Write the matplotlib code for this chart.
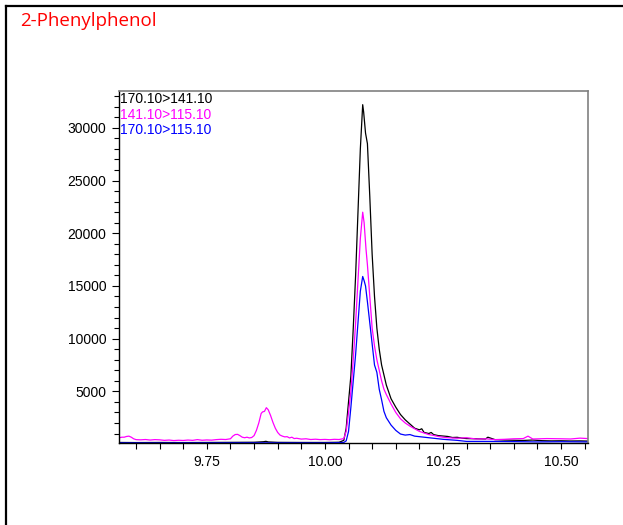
import matplotlib
matplotlib.use("Agg")
import matplotlib.pyplot as plt
from matplotlib.lines import Line2D
from matplotlib.ticker import MultipleLocator, FormatStrFormatter

title = "2-Phenylphenol"
labels = ["170.10>141.10", "141.10>115.10", "170.10>115.10"]
colors = ["#000000", "#ff00ff", "#0000ff"]

# 170.10>141.10 (black)
t_black = [9.565, 9.60, 9.65, 9.70, 9.75, 9.80, 9.85, 9.87, 9.875, 9.88, 9.90, 9.95,
           10.00, 10.03, 10.04, 10.045, 10.05, 10.055, 10.06, 10.065, 10.07, 10.075,
           10.08, 10.082, 10.086, 10.09, 10.095, 10.10, 10.105, 10.11, 10.115, 10.12,
           10.13, 10.14, 10.15, 10.16, 10.17, 10.175, 10.18, 10.19, 10.20, 10.205, 10.21,
           10.22, 10.225, 10.23, 10.24, 10.25, 10.26, 10.27, 10.28, 10.29, 10.30, 10.32,
           10.34, 10.345, 10.36, 10.38, 10.40, 10.42, 10.44, 10.46, 10.48, 10.50, 10.52,
           10.54, 10.557]
v_black = [150, 140, 150, 140, 150, 160, 170, 220, 260, 200, 160, 150,
           150, 170, 350, 1500, 4000, 6500, 11000, 16000, 22000, 28000,
           32200, 31500, 29500, 28500, 23500, 18000, 14000, 11000, 9000, 7500,
           5600, 4300, 3500, 2800, 2300, 2100, 1900, 1500, 1350, 1450, 1100,
           1000, 1100, 900, 800, 760, 720, 620, 640, 560, 520, 500,
           480, 650, 420, 380, 360, 340, 380, 320, 300, 310, 290,
           300, 280]

# 141.10>115.10 (magenta)
t_mag = [9.565, 9.57, 9.575, 9.58, 9.585, 9.59, 9.595, 9.60, 9.61, 9.62, 9.63, 9.64,
         9.65, 9.66, 9.67, 9.68, 9.69, 9.70, 9.71, 9.72, 9.73, 9.74, 9.75, 9.76, 9.77,
         9.78, 9.79, 9.80, 9.805, 9.81, 9.815, 9.82, 9.825, 9.83, 9.835, 9.84, 9.845,
         9.85, 9.855, 9.86, 9.865, 9.868, 9.872, 9.876, 9.88, 9.885, 9.89, 9.895, 9.90,
         9.905, 9.91, 9.915, 9.92, 9.925, 9.93, 9.935, 9.94, 9.95, 9.96, 9.97, 9.98,
         9.99, 10.00, 10.01, 10.02, 10.03, 10.04, 10.045, 10.05, 10.055, 10.06, 10.065,
         10.07, 10.075, 10.08, 10.083, 10.087, 10.09, 10.095, 10.10, 10.105, 10.11,
         10.115, 10.12, 10.125, 10.13, 10.14, 10.15, 10.16, 10.17, 10.18, 10.19, 10.20,
         10.21, 10.22, 10.23, 10.24, 10.25, 10.26, 10.28, 10.30, 10.32, 10.34, 10.36,
         10.38, 10.40, 10.42, 10.43, 10.44, 10.47, 10.50, 10.52, 10.54, 10.557]
v_mag = [600, 650, 650, 720, 750, 650, 500, 420, 400, 430, 380, 420,
         400, 350, 380, 330, 360, 340, 380, 350, 420, 360, 390, 370, 420,
         450, 430, 500, 750, 900, 920, 800, 650, 600, 650, 580, 620,
         800, 1300, 2000, 2900, 3050, 3100, 3450, 3250, 2700, 2050, 1500, 1100,
         850, 750, 680, 700, 580, 650, 520, 550, 470, 500, 430, 460,
         420, 440, 410, 450, 430, 520, 1200, 3000, 5000, 8000, 11500,
         15500, 19500, 22000, 21000, 18500, 17000, 14000, 11000, 9300, 8000,
         7000, 6000, 5200, 4700, 3800, 3000, 2400, 2000, 1700, 1450, 1200,
         1050, 900, 820, 720, 650, 600, 550, 600, 480, 500, 420,
         450, 500, 520, 750, 480, 520, 500, 480, 560, 520]

# 170.10>115.10 (blue)
t_blue = [9.565, 9.65, 9.75, 9.85, 9.95, 10.00, 10.04, 10.045, 10.05, 10.055, 10.06,
          10.065, 10.07, 10.075, 10.08, 10.083, 10.086, 10.09, 10.095, 10.10, 10.105,
          10.11, 10.115, 10.12, 10.125, 10.13, 10.14, 10.15, 10.16, 10.17, 10.18, 10.19,
          10.20, 10.22, 10.25, 10.28, 10.30, 10.35, 10.40, 10.45, 10.50, 10.557]
v_blue = [110, 100, 110, 120, 110, 110, 150, 300, 1200, 3500, 6000,
          8500, 11500, 14500, 15900, 15500, 15000, 13500, 11500, 9500, 7500,
          6800, 5200, 4200, 3100, 2500, 1800, 1300, 950, 850, 900, 750,
          700, 600, 450, 350, 250, 250, 230, 200, 220, 200]

fig = plt.figure(figsize=(6.23, 5.25), dpi=100)
ax = fig.add_axes([0.191, 0.1562, 0.7528, 0.6705])

for t, v, c in [(t_black, v_black, colors[0]), (t_mag, v_mag, colors[1]), (t_blue, v_blue, colors[2])]:
    ax.plot(t, v, color=c, lw=0.9)

ax.set_xlim(9.564, 10.557)
ax.set_ylim(100, 33500)

ax.xaxis.set_major_locator(MultipleLocator(0.25))
ax.xaxis.set_minor_locator(MultipleLocator(0.05))
ax.xaxis.set_major_formatter(FormatStrFormatter("%.2f"))
ax.yaxis.set_major_locator(MultipleLocator(5000))
ax.yaxis.set_minor_locator(MultipleLocator(1000))

ax.tick_params(axis="x", which="both", direction="out", length=4, width=0.8, pad=5,
               labelsize=10)
ax.tick_params(axis="y", which="major", direction="out", length=5, width=0.8, pad=4,
               labelsize=10)
ax.tick_params(axis="y", which="minor", direction="out", length=3.5, width=0.8)
for lab in ax.get_xticklabels() + ax.get_yticklabels():
    lab.set_fontfamily("Liberation Sans")

for side in ["top", "right"]:
    ax.spines[side].set_color("#808080")
    ax.spines[side].set_linewidth(1.2)
for side in ["left", "bottom"]:
    ax.spines[side].set_color("black")
    ax.spines[side].set_linewidth(1.0)

for i, (lab, c) in enumerate(zip(labels, colors)):
    ax.text(0.003, 0.977 - i * 0.0445, lab, transform=ax.transAxes, color=c,
            fontsize=10, family="Liberation Sans", va="center", ha="left")

fig.text(20 / 623, 1 - 21 / 525, title, color="#ff0000", fontsize=13.5,
         family="Open Sans", va="center", ha="left")

# outer frame lines (top and left)
fig.add_artist(Line2D([6 / 623, 1], [1 - 6 / 525, 1 - 6 / 525], color="black", lw=1.6,
                      transform=fig.transFigure))
fig.add_artist(Line2D([6 / 623, 6 / 623], [0, 1 - 6 / 525], color="black", lw=1.6,
                      transform=fig.transFigure))

fig.savefig("out.png", dpi=100)
